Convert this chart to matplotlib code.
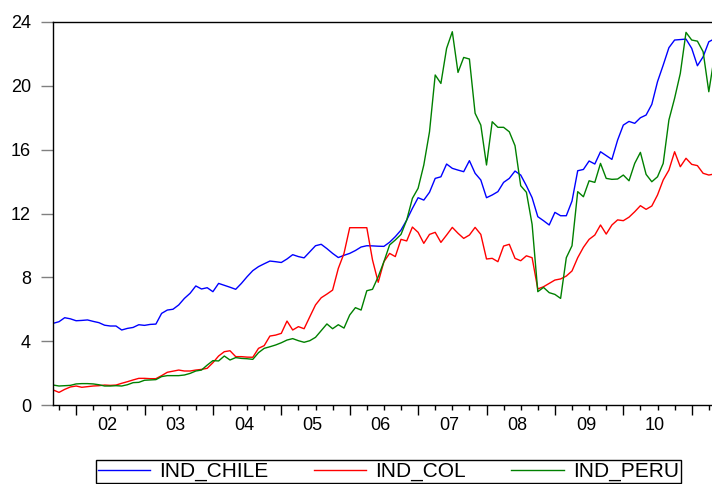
#Index comparison chart: Chile, Colombia, Peru (monthly, from 2001m9)
import numpy as np
import matplotlib.pyplot as plt

plt.rcParams['font.family'] = ['Liberation Sans', 'DejaVu Sans']

chile = [5.12, 5.22, 5.47, 5.40, 5.28, 5.30, 5.33, 5.24, 5.16, 5.00,
         4.95, 4.95, 4.70, 4.80, 4.86, 5.03, 4.99, 5.05, 5.07, 5.74,
         5.95, 6.00, 6.27, 6.68, 7.00, 7.46, 7.27, 7.35, 7.10, 7.62,
         7.50, 7.38, 7.25, 7.62, 8.04, 8.42, 8.67, 8.85, 9.02, 8.98,
         8.93, 9.15, 9.42, 9.30, 9.22, 9.60, 9.98, 10.07, 9.80, 9.50,
         9.24, 9.38, 9.50, 9.68, 9.90, 9.98, 9.97, 9.95, 9.94, 10.20,
         10.55, 10.96, 11.59, 12.32, 12.99, 12.84, 13.33, 14.20, 14.30, 15.10,
         14.83, 14.72, 14.62, 15.31, 14.52, 14.10, 12.99, 13.16, 13.37, 13.95,
         14.20, 14.66, 14.41, 13.74, 12.99, 11.80, 11.55, 11.28, 12.07, 11.86,
         11.86, 12.78, 14.68, 14.76, 15.29, 15.10, 15.87, 15.63, 15.39, 16.60,
         17.54, 17.77, 17.65, 18.00, 18.17, 18.84, 20.26, 21.30, 22.39, 22.87,
         22.90, 22.93, 22.35, 21.26, 21.82, 22.76, 22.95]

col = [0.94, 0.79, 0.98, 1.13, 1.19, 1.11, 1.15, 1.19, 1.21, 1.25,
       1.23, 1.25, 1.36, 1.46, 1.57, 1.67, 1.67, 1.65, 1.65, 1.84,
       2.05, 2.12, 2.19, 2.13, 2.13, 2.19, 2.23, 2.30, 2.65, 3.07,
       3.34, 3.40, 3.03, 3.03, 3.00, 2.99, 3.55, 3.72, 4.32, 4.38,
       4.49, 5.26, 4.70, 4.91, 4.78, 5.53, 6.27, 6.72, 6.95, 7.20,
       8.56, 9.50, 11.11, 11.11, 11.11, 11.11, 9.09, 7.69, 8.98, 9.50,
       9.30, 10.38, 10.28, 11.15, 10.82, 10.13, 10.69, 10.82, 10.19, 10.65,
       11.13, 10.76, 10.44, 10.65, 11.13, 10.69, 9.15, 9.19, 8.98, 9.96,
       10.07, 9.19, 9.04, 9.35, 9.23, 7.27, 7.41, 7.62, 7.83, 7.90,
       8.08, 8.40, 9.23, 9.88, 10.38, 10.65, 11.28, 10.71, 11.28, 11.60,
       11.55, 11.77, 12.11, 12.49, 12.26, 12.47, 13.16, 14.10, 14.72, 15.87,
       14.93, 15.46, 15.08, 15.00, 14.52, 14.41, 14.48]

peru = [1.25, 1.19, 1.21, 1.23, 1.32, 1.34, 1.34, 1.32, 1.27, 1.19,
        1.19, 1.21, 1.19, 1.27, 1.40, 1.42, 1.55, 1.57, 1.59, 1.78,
        1.84, 1.84, 1.84, 1.88, 1.98, 2.13, 2.19, 2.50, 2.78, 2.76,
        3.07, 2.82, 2.97, 2.92, 2.90, 2.86, 3.28, 3.55, 3.65, 3.76,
        3.90, 4.07, 4.16, 4.03, 3.93, 4.03, 4.24, 4.66, 5.08, 4.78,
        5.03, 4.82, 5.64, 6.10, 5.95, 7.16, 7.25, 8.04, 8.98, 10.03,
        10.34, 10.69, 11.59, 12.95, 13.58, 15.04, 17.12, 20.68, 20.15, 22.35,
        23.39, 20.84, 21.78, 21.68, 18.28, 17.54, 15.04, 17.75, 17.40, 17.40,
        17.12, 16.25, 13.74, 13.33, 11.32, 7.10, 7.37, 7.04, 6.93, 6.68,
        9.23, 9.98, 13.37, 13.05, 14.05, 13.95, 15.14, 14.20, 14.14, 14.16,
        14.41, 14.05, 15.14, 15.83, 14.45, 13.99, 14.30, 15.14, 17.86, 19.22,
        20.78, 23.35, 22.87, 22.80, 22.14, 19.63, 21.90]

year_labels = ["02", "03", "04", "05", "06", "07", "08", "09", "10"]

x = np.arange(len(chile))   # month index, 0 = 2001m9

fig = plt.figure(figsize=(7.12, 4.84), dpi=100)
ax = fig.add_axes([53.3/712, 1 - 405/484, 1 - 53.3/712, 383/484])

ax.plot(x, chile, color='#0000ff', lw=1.0, label='IND_CHILE')
ax.plot(x, col, color='#ff0000', lw=1.0, label='IND_COL')
ax.plot(x, peru, color='#008000', lw=1.0, label='IND_PERU')

ax.set_xlim(0, 115.56)
ax.set_ylim(0, 24)
ax.set_yticks(np.arange(0, 25, 4))
ax.tick_params(axis='y', length=9, width=1, color='#808080', pad=7, labelsize=13)

# year boundaries (january) as major ticks, quarters as minor ticks
ax.set_xticks(np.arange(4, 116, 12))
ax.set_xticklabels([])
ax.set_xticks(np.arange(1, 116, 3), minor=True)
ax.tick_params(axis='x', which='major', length=7, width=1, color='black')
ax.tick_params(axis='x', which='minor', length=3.5, width=1, color='black')
for i, lab in enumerate(year_labels):
    ax.text(9.45 + 12*i, -0.054, lab, transform=ax.get_xaxis_transform(),
            ha='center', va='center', fontsize=13)

ax.spines['right'].set_visible(False)
for s in ['top', 'left', 'bottom']:
    ax.spines[s].set_linewidth(1.0)
    ax.spines[s].set_color('black')

# legend box stretched from x=96 to x=681 px, top at y=460 px
leg = fig.legend(loc='upper left',
                 bbox_to_anchor=(95.7/712, 1 - 460/484 - 0.05, (681 - 95.7)/712, 0.05),
                 mode='expand', ncol=3, fancybox=False, edgecolor='black', framealpha=1,
                 handlelength=2.5, handletextpad=0.45, columnspacing=1.3,
                 borderpad=0.1, fontsize=15, borderaxespad=0)
leg.get_frame().set_linewidth(1.0)

fig.savefig('out.png', dpi=100)
